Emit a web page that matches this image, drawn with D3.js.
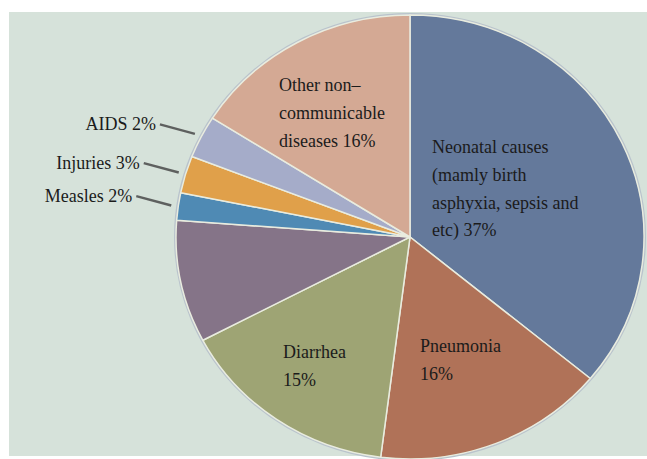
<!DOCTYPE html>
<html>
<head>
<meta charset="utf-8">
<script src="https://cdn.jsdelivr.net/npm/d3@7"></script>
<style>
  body { margin: 0; background: #fff; }
  svg { display: block; }
</style>
</head>
<body>
<div id="chart"></div>
<script>
// slices in drawing order, clockwise from 12 o'clock
const causes = ["Neonatal", "Pneumonia", "Diarrhea", "Other", "Measles", "Injuries", "AIDS", "Other NCD"];
// slice sizes as drawn in the picture (percent)
const shares = [36, 16, 15.3, 8.9, 2, 2.7, 3.1, 16];
const colors = ["#64799b", "#b07258", "#9ea474", "#857488", "#4f8ab4", "#e0a04a", "#a5acc9", "#d4a994"];

// label text inside slices (null = no label)
const insideLabels = [
    ["Neonatal causes", "(mamly birth", "asphyxia, sepsis and", "etc) 37%"],
    ["Pneumonia", "16%"],
    ["Diarrhea", "15%"],
    null, null, null, null,
    ["Other non\u2013", "communicable", "diseases 16%"]
];
// label text outside with leader lines
const outsideLabels = [null, null, null, null, "Measles 2%", "Injuries 3%", "AIDS 2%", null];

const width = 647, height = 459;
const cx = 410, cy = 237, rx = 234, ry = 222;

const svg = d3.select("#chart").append("svg")
    .attr("width", width)
    .attr("height", height);

// panel background
svg.append("rect")
    .attr("x", 9).attr("y", 12)
    .attr("width", width - 9).attr("height", 444)
    .attr("fill", "#d6e2da");

const pie = d3.pie().sort(null).value(d => d);
const arcs = pie(shares);
const arc = d3.arc().innerRadius(0).outerRadius(rx);

// the pie is slightly squashed vertically in the original
const g = svg.append("g")
    .attr("transform", `translate(${cx},${cy}) scale(1,${ry / rx})`);

g.append("ellipse")
    .attr("rx", rx + 1).attr("ry", rx + 1)
    .attr("fill", "none")
    .attr("stroke", "#b9c3cc")
    .attr("stroke-width", 2)
    .attr("vector-effect", "non-scaling-stroke");

g.selectAll("path.slice")
    .data(arcs)
    .enter()
    .append("path")
    .attr("class", "slice")
    .attr("d", arc)
    .attr("fill", (d, i) => colors[i])
    .attr("stroke", "#e9ecdf")
    .attr("stroke-width", 1.5)
    .attr("stroke-linejoin", "round")
    .attr("vector-effect", "non-scaling-stroke");

// point on the ellipse for a given angle / relative radius
function rim(angle, k) {
    return [cx + rx * k * Math.sin(angle), cy - ry * k * Math.cos(angle)];
}

const font = "'Liberation Serif', 'Times New Roman', serif";
const textColor = "#1b1b1b";
const lineGap = 27.8;

// where each inside label block starts (left x, first baseline)
const insidePos = {
    0: [432, 153],
    1: [420, 352],
    2: [283, 358],
    7: [279, 91]
};

Object.keys(insidePos).forEach(k => {
    const i = +k;
    const [x, y] = insidePos[i];
    const t = svg.append("text")
        .attr("font-family", font)
        .attr("font-size", 18)
        .attr("fill", textColor);
    insideLabels[i].forEach((line, j) => {
        t.append("tspan")
            .attr("x", x)
            .attr("y", y + j * lineGap)
            .text(line);
    });
});

// leader lines and outside labels
arcs.forEach((d, i) => {
    if (!outsideLabels[i]) return;
    const mid = (d.startAngle + d.endAngle) / 2;
    const [ex, ey] = rim(mid, 1.03);
    const len = 35;
    const sx = ex - len, sy = ey - len * 0.27;
    svg.append("line")
        .attr("x1", sx).attr("y1", sy)
        .attr("x2", ex).attr("y2", ey)
        .attr("stroke", "#4a4a4a")
        .attr("stroke-width", 2.4)
        .attr("opacity", 0.85);
    svg.append("text")
        .attr("x", sx - 4)
        .attr("y", sy + 6)
        .attr("text-anchor", "end")
        .attr("font-family", font)
        .attr("font-size", 18)
        .attr("fill", textColor)
        .text(outsideLabels[i]);
});
</script>
</body>
</html>
